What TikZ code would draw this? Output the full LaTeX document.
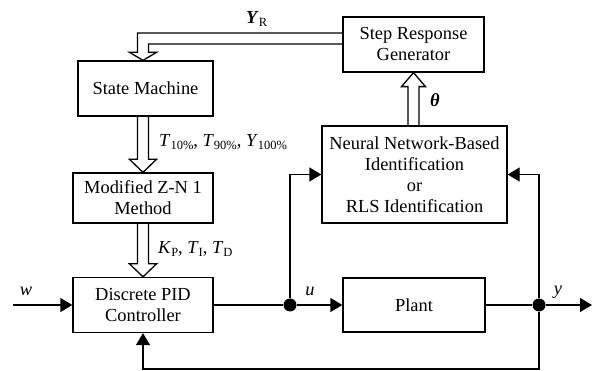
\documentclass[tikz,border=0pt]{standalone}
\usepackage{fontspec}
\setmainfont{Liberation Serif}
\usetikzlibrary{arrows.meta,calc}
\newcommand{\lsub}[1]{\raisebox{-0.35ex}{\fontsize{12.5}{13}\selectfont #1}}
% hollow double arrow, #3 = 1 downwards, -1 upwards
\newcommand{\fatarrow}[3]{%
  \draw[fat] ($(#1)+(-5.5,0)$) -- ($(#2)+(-5.5,-13*#3)$) -- ($(#2)+(-13.5,-13*#3)$)
    -- (#2) -- ($(#2)+(13.5,-13*#3)$) -- ($(#2)+(5.5,-13*#3)$) -- ($(#1)+(5.5,0)$);}
\tikzset{
  block/.style={draw, line width=1.3pt, align=center, inner sep=0pt},
  sig/.style={line width=1.3pt, -{Triangle[length=12pt,width=14pt]}},
  wire/.style={line width=1.3pt},
  fat/.style={line width=1.3pt, line join=miter},
  dot/.style={circle, fill, inner sep=0pt, minimum size=13pt},
  lbl/.style={inner sep=0pt}
}
\begin{document}
\begin{tikzpicture}[x=1pt, y=-1pt, font=\fontsize{18.4}{21}\selectfont]
  \useasboundingbox (0,0) rectangle (592,371);
  % blocks
  \node[block, minimum width=135pt, minimum height=55pt] (sm) at (145.5,88.5) {State Machine};
  \node[block, minimum width=140pt, minimum height=50pt] (zn) at (143,198) {Modified Z-N 1\\Method};
  \node[block, minimum width=140pt, minimum height=55pt] (pid) at (143,305) {Discrete PID\\Controller};
  \node[block, minimum width=141pt, minimum height=55pt] (srg) at (413.5,44.5) {Step Response\\Generator};
  \node[block, minimum width=185pt, minimum height=97pt] (nn) at (414.5,174.5)
    {Neural Network-Based\\Identification\\or\\RLS Identification};
  \node[block, minimum width=142pt, minimum height=54pt] (plant) at (414,305) {Plant};
  % branch points
  \node[dot] (udot) at (290,305) {};
  \node[dot] (ydot) at (539,305) {};
  \coordinate (win) at (13,305);
  \coordinate (yout) at (592,305);
  \coordinate (fb) at (539,369);
  % hollow arrows
  \coordinate (smout) at (sm.south -| zn.north);
  \coordinate (smin) at (sm.north -| zn.north);
  \coordinate (yr) at ($(srg.west)+(0,-6)$);
  \coordinate (th) at (nn.north -| srg.south);
  \draw[fat] ($(yr)+(0,-5.5)$) -| ($(smin)+(-5.5,-8)$) -- ($(smin)+(-13.5,-8)$) -- (smin)
    -- ($(smin)+(13.5,-8)$) -- ($(smin)+(5.5,-8)$) |- ($(yr)+(0,5.5)$);
  \fatarrow{smout}{zn.north}{1}
  \fatarrow{zn.south}{pid.north}{1}
  \draw[fat] ($(th)+(-5.5,0)$) -- ($(srg.south)+(-5.5,14)$) -- ($(srg.south)+(-12,14)$)
    -- (srg.south) -- ($(srg.south)+(12,14)$) -- ($(srg.south)+(5.5,14)$) -- ($(th)+(5.5,0)$);
  % signals
  \draw[sig] (win) -- (pid.west);
  \draw[wire] (pid.east) -- (udot);
  \draw[sig] (udot) -- (plant.west);
  \draw[sig] (udot) |- (nn.west);
  \draw[wire] (plant.east) -- (ydot);
  \draw[sig] (ydot) -- (yout);
  \draw[sig] (ydot) |- (nn.east);
  \draw[sig] (ydot) -- (fb) -| (pid.south);
  % labels
  \node[lbl, anchor=base] (wl) at (26,296) {\textit{w}};
  \node[lbl, anchor=base] (ul) at (310,296) {\textit{u}};
  \node[lbl, anchor=base] (yl) at (558,295) {\textit{y}};
  \node[lbl, anchor=west] (tl) at (159,142)
    {\textit{T}\lsub{10\%}, \textit{T}\lsub{90\%}, \textit{Y}\lsub{100\%}};
  \node[lbl, anchor=west] (kl) at (158,249)
    {\textit{K}\lsub{P}, \textit{T}\lsub{I}, \textit{T}\lsub{D}};
  \node[lbl, anchor=west] (yrl) at (246,19) {\textbf{\textit{Y}}\lsub{R}};
  \node[lbl, anchor=west] (thl) at (430,100) {\textbf{\textit{θ}}};
\end{tikzpicture}
\end{document}
